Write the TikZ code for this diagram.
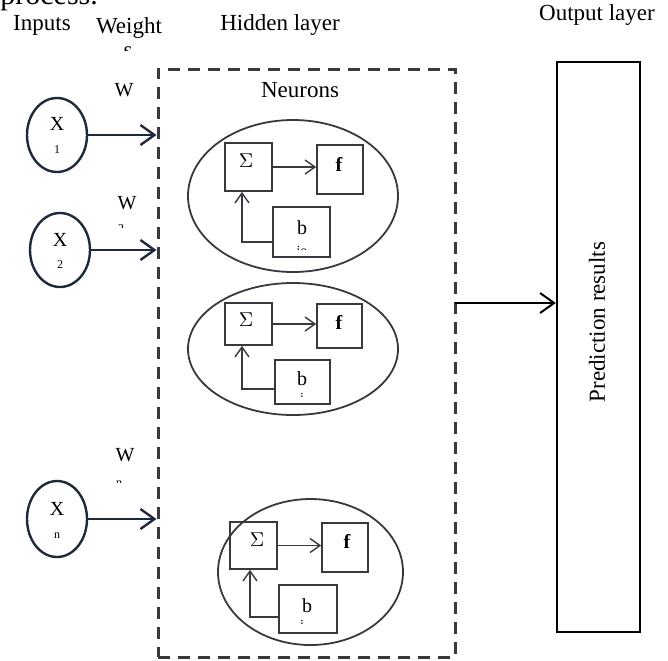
\documentclass[tikz,border=0pt]{standalone}
\usepackage{fontspec}
\setmainfont{Liberation Serif}
\usepackage{xcolor}
\usetikzlibrary{arrows.meta,shapes.geometric,positioning}

\definecolor{inkblue}{RGB}{30,42,60}
\definecolor{linegray}{RGB}{55,57,62}

\tikzset{
  head/.style={font=\fontsize{11.5}{13}\selectfont, anchor=base, inner sep=0pt},
  sym/.style={font=\fontsize{10}{12}\selectfont, inner sep=0pt},
  tinysub/.style={font=\fontsize{6}{7}\selectfont, anchor=base, inner sep=0pt},
  inputnode/.style={ellipse, draw=inkblue, line width=1.2pt, minimum width=30pt, minimum height=37pt, inner sep=0pt},
  neuron/.style={ellipse, draw=linegray, line width=0.9pt, inner sep=0pt},
  cellbox/.style={rectangle, draw=linegray, line width=0.8pt, inner sep=0pt},
  inarrow/.style={-{Straight Barb[length=7pt,width=10pt]}, line width=1.2pt, inkblue},
  cellarrow/.style={-{Straight Barb[length=5pt,width=7pt]}, line width=0.7pt, linegray},
}

\begin{document}
\begin{tikzpicture}[x=0.5pt,y=-0.5pt]
 \useasboundingbox (0,0) rectangle (668,660);

 % titles
 \node[anchor=base west, font=\fontsize{15}{17}\selectfont, inner sep=0pt] (cut) at (0,4) {process.};
 \node[head] (inputs) at (42,30) {Inputs};
 \node[head] (weights) at (129,33) {Weight};
 \begin{scope}
  \clip (100,40) rectangle (160,50);
  \node[head] (weights2) at (128,57) {s};
 \end{scope}
 \node[head] (hiddentitle) at (280,30) {Hidden layer};
 \node[head] (outputtitle) at (597,20) {Output layer};

 % hidden layer and output layer
 \node[draw=linegray, line width=1.5pt, dash pattern=on 6pt off 4pt, minimum width=148.5pt, minimum height=294pt, inner sep=0pt] (hidden) at (306.5,363) {};
 \node[draw=black, line width=1.2pt, minimum width=41.5pt, minimum height=285pt, inner sep=0pt] (output) at (598.5,347) {};
 \node[head, anchor=center, rotate=90] (predict) at (597,322) {Prediction results};
 \node[head] (neurons) at (300,97) {Neurons};

 % inputs
 \node[inputnode] (x1) at (57,135) {};
 \node[sym] at (57,124) {X};
 \node[tinysub] at (57,153) {1};
 \node[inputnode] (x2) at (60,250) {};
 \node[sym] at (60,240) {X};
 \node[tinysub] at (60,268) {2};
 \node[inputnode, minimum height=38pt] (xn) at (57,519) {};
 \node[sym] at (57,509) {X};
 \node[tinysub] at (57,538) {n};

 \draw[inarrow] (x1.east) -- (x1.east -| hidden.west);
 \draw[inarrow] (x2.east) -- (x2.east -| hidden.west);
 \draw[inarrow] (xn.east) -- (xn.east -| hidden.west);

 % weights
 \node[sym] (w1) at (124,90) {W};
 \node[sym] (w2) at (127,203) {W};
 \begin{scope}
  \clip (110,215) rectangle (135,227);
  \node[tinysub] at (121,232) {2};
 \end{scope}
 \node[sym] (wn) at (125,455) {W};
 \begin{scope}
  \clip (110,470) rectangle (135,482);
  \node[tinysub] at (119,486) {n};
 \end{scope}

 % neuron 1
 \node[neuron, minimum width=105pt, minimum height=76pt] (n1) at (293,196) {};
 \node[cellbox, minimum width=23.5pt, minimum height=24pt] (s1) at (248.5,167) {};
 \node[cellbox, minimum width=23pt, minimum height=24.5pt] (f1) at (340,169.5) {};
 \node[cellbox, minimum width=28.5pt, minimum height=25pt] (b1) at (301.5,232) {};
 \node[sym] at (246,161) {$\Sigma$};
 \node[sym] at (339,164) {\textbf{f}};
 \node[sym] at (302,228) {b};
 \begin{scope}
  \clip (280,240) rectangle (325,249.5);
  \node[font=\fontsize{7}{8}\selectfont, anchor=base, inner sep=0pt] at (302,255) {io};
 \end{scope}
 \draw[cellarrow] (s1.east) -- (s1.east -| f1.west);
 \draw[cellarrow] ([yshift=-5pt]b1.west) -| ([xshift=-3.25pt]s1.south);

 % neuron 2
 \node[neuron, minimum width=105pt, minimum height=66pt] (n2) at (293,349) {};
 \node[cellbox, minimum width=23.5pt, minimum height=21pt] (s2) at (248.5,324) {};
 \node[cellbox, minimum width=22.5pt, minimum height=22pt] (f2) at (339.5,326) {};
 \node[cellbox, minimum width=27.5pt, minimum height=22pt] (b2) at (302.5,382) {};
 \node[sym] at (246,320) {$\Sigma$};
 \node[sym] at (339,322) {\textbf{f}};
 \node[sym] at (302,379) {b};
 \begin{scope}
  \clip (290,388) rectangle (315,396);
  \node[font=\fontsize{7}{8}\selectfont, anchor=base, inner sep=0pt] at (302,402) {i};
 \end{scope}
 \draw[cellarrow] (s2.east) -- (s2.east -| f2.west);
 \draw[cellarrow] ([yshift=-3.5pt]b2.west) -| ([xshift=-3.25pt]s2.south);

 % neuron 3
 \node[neuron, minimum width=92.5pt, minimum height=73pt] (n3) at (310.5,572) {};
 \node[cellbox, minimum width=23.5pt, minimum height=23.5pt] (s3) at (253.5,545.5) {};
 \node[cellbox, minimum width=23pt, minimum height=24.5pt] (f3) at (345,547.5) {};
 \node[cellbox, minimum width=29pt, minimum height=24pt] (b3) at (308,609) {};
 \node[sym] at (257,540) {$\Sigma$};
 \node[sym] at (347,541) {\textbf{f}};
 \node[sym] at (307,606) {b};
 \begin{scope}
  \clip (290,615) rectangle (315,623);
  \node[font=\fontsize{7}{8}\selectfont, anchor=base, inner sep=0pt] at (302,629) {i};
 \end{scope}
 \draw[cellarrow] (s3.east) -- (s3.east -| f3.west);
 \draw[cellarrow] ([yshift=-4pt]b3.west) -| ([xshift=-1.75pt]s3.south);

 % to output
 \coordinate (hout) at (455,303);
 \draw[-{Straight Barb[length=7pt,width=10pt]}, line width=1pt] (hout) -- (hout -| output.west);
\end{tikzpicture}
\end{document}
